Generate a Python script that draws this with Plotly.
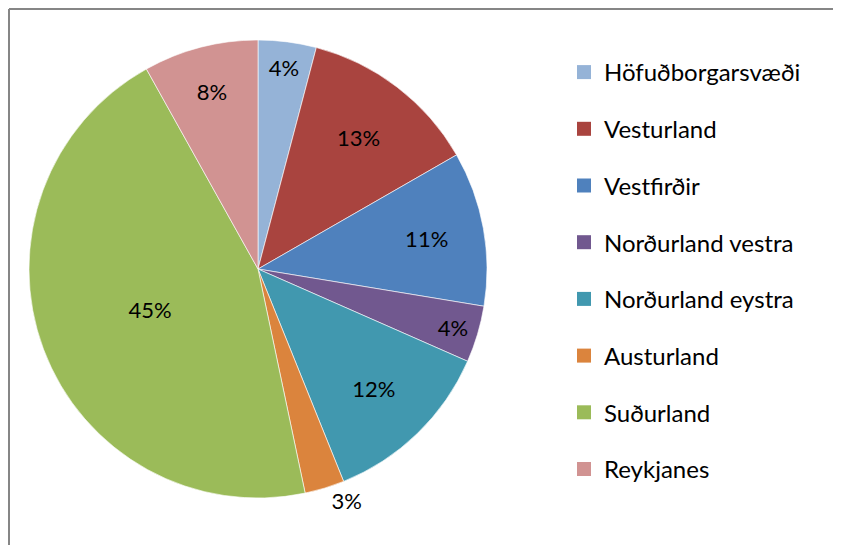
import plotly.graph_objects as go

# regions and their share
regions = ["Höfuðborgarsvæði", "Vesturland", "Vestfirðir", "Norðurland vestra",
           "Norðurland eystra", "Austurland", "Suðurland", "Reykjanes"]
shares = [4.1, 12.6, 10.9, 4.0, 12.3, 2.8, 45.2, 8.1]
colors = ["#95B3D7", "#A9443F", "#4F81BD", "#71588F",
          "#4198AF", "#DB843D", "#9BBB59", "#D19392"]
label_pos = ["inside", "inside", "inside", "inside", "inside", "outside", "inside", "inside"]

W, H = 841, 545
FONT = "Lato"
# the page body adds an 8px offset, so figure coords are shifted by -8
CX, CY, R = 250, 284, 229   # pie centre (from bottom) and radius in px

fig = go.Figure()
fig.add_trace(go.Pie(
    labels=regions,
    values=shares,
    sort=False,
    direction="clockwise",
    rotation=0,
    marker=dict(colors=colors, line=dict(color="rgba(255,255,255,0.6)", width=1)),
    textinfo="percent",
    texttemplate="%{percent:.0%}",
    textposition=label_pos,
    insidetextorientation="horizontal",
    textfont=dict(family=FONT, size=22, color="black"),
    showlegend=False,
    hoverinfo="label+percent",
    domain=dict(x=[(CX - R) / W, (CX + R) / W],
                y=[(CY - R) / H, (CY + R) / H]),
))

# legend entries, one group each so they can be spaced like the original
for i, (name, col) in enumerate(zip(regions, colors)):
    fig.add_trace(go.Scatter(
        x=[None], y=[None], mode="markers", name=name,
        marker=dict(symbol="square", size=14, color=col),
        legendgroup=f"g{i}", showlegend=True,
    ))

fig.update_layout(
    width=W, height=H,
    margin=dict(l=0, r=0, t=0, b=0),
    paper_bgcolor="white",
    plot_bgcolor="white",
    xaxis=dict(visible=False),
    yaxis=dict(visible=False),
    legend=dict(
        x=556 / W, y=1 - 42 / H, xanchor="left", yanchor="top",
        font=dict(family=FONT, size=24, color="black"),
        tracegroupgap=22.5,
        itemclick=False, itemdoubleclick=False,
    ),
    shapes=[
        dict(type="line", xref="paper", yref="paper",
             x0=1 / W, x1=1, y0=1 - 1 / H, y1=1 - 1 / H,
             line=dict(color="#868686", width=2)),
        dict(type="line", xref="paper", yref="paper",
             x0=1 / W, x1=1 / W, y0=0, y1=1 - 1 / H,
             line=dict(color="#868686", width=2)),
    ],
)

fig.write_html("out.html")
